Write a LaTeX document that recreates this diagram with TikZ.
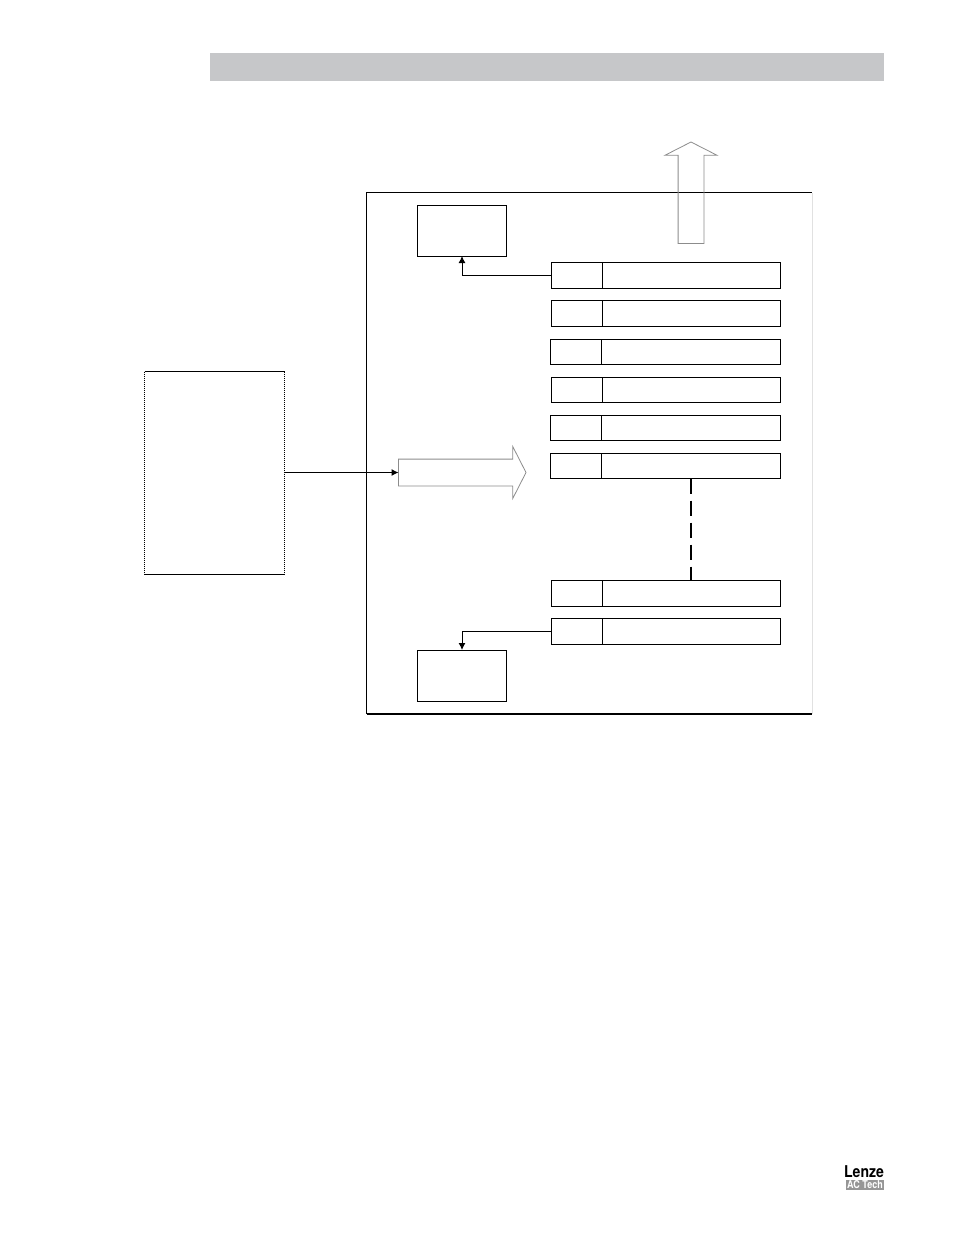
\documentclass[tikz,border=0pt]{standalone}
\usepackage{fontspec}
\setmainfont{TeX Gyre Heros}
\usepackage{graphicx, xcolor}
\usetikzlibrary{positioning}
\usetikzlibrary{arrows.meta}
\usetikzlibrary{shapes.arrows}
\definecolor{bandgray}{RGB}{198,199,201}
\definecolor{arrowgray}{RGB}{140,140,140}
\definecolor{framegray}{RGB}{225,225,225}
\definecolor{logogray}{RGB}{150,150,150}

\begin{document}
\begin{tikzpicture}[x=1pt, y=-1pt,
    cell style/.style={
        rectangle, draw, line width=1pt,
        inner sep=0pt, outer sep=0pt,
        minimum height=26pt
    },
    num cell/.style={cell style, minimum width=51pt},
    text cell/.style={cell style, minimum width=178pt},
    low cell/.style={minimum height=25pt},
    block style/.style={
        rectangle, draw, line width=1pt,
        inner sep=0pt, outer sep=0pt,
        minimum width=89pt, minimum height=51pt
    },
    hollow arrow/.style={
        single arrow, draw=arrowgray, line width=.8pt,
        anchor=tail,
        inner sep=13pt, outer sep=0pt,
        single arrow head extend=12.5pt,
        single arrow head indent=0pt,
        single arrow tip angle=126
    },
    empty box/.style={inner sep=0pt, outer sep=0pt},
    edge/.style={line width=1pt, -{Latex[length=7pt,width=7pt]}}
]
    \useasboundingbox (0,0) rectangle (954,1235);

    % header band
    \node[empty box, fill=bandgray, minimum width=674pt, minimum height=28pt] (band) at (547,67) {};

    % outer frame
    \node[empty box, minimum width=445.5pt, minimum height=521.5pt] (frame) at (589.25,453.25) {};
    \draw[line width=1pt] (frame.south west) -- (frame.north west) -- (frame.north east);
    \draw[framegray, line width=1pt] (frame.north east) -- (frame.south east);
    \draw[line width=2pt] (frame.south west) -- (frame.south east);

    % dotted box
    \node[empty box, minimum width=140pt, minimum height=202.5pt] (source) at (214.5,472.75) {};
    \draw[line width=1pt] (source.north west) -- (source.north east);
    \draw[line width=1pt] (source.south west) -- (source.south east);
    \draw[line width=1pt, dash pattern=on 1pt off 1pt] (source.north west) -- (source.south west);
    \draw[line width=1pt, dash pattern=on 1pt off 1pt] (source.north east) -- (source.south east);

    % hollow arrows
    \node[hollow arrow, minimum height=101.5pt, shape border rotate=90, inner sep=12.5pt, single arrow head extend=13pt] (outarrow) at (691,243.5) {};
    \node[hollow arrow, minimum height=127.5pt] (inarrow) at (398.5,472.5) {};

    % end blocks
    \node[block style] (topblock) at (462,230.5) {};
    \node[block style] (botblock) at (462,675.5) {};

    % register rows
    \node[num cell] (n1) at (577,275.5) {};
    \node[text cell] (t1) at (691.5,275.5) {};
    \node[num cell] (n2) at (577,313.5) {};
    \node[text cell] (t2) at (691.5,313.5) {};
    \node[num cell, low cell] (n3) at (576,352) {};
    \node[text cell, low cell, minimum width=179pt] (t3) at (691,352) {};
    \node[num cell, low cell] (n4) at (577,390) {};
    \node[text cell, low cell] (t4) at (691.5,390) {};
    \node[num cell, low cell] (n5) at (576,428) {};
    \node[text cell, low cell, minimum width=179pt] (t5) at (691,428) {};
    \node[num cell, low cell] (n6) at (576,466) {};
    \node[text cell, low cell, minimum width=179pt] (t6) at (691,466) {};
    \node[num cell] (n7) at (577,593.5) {};
    \node[text cell] (t7) at (691.5,593.5) {};
    \node[num cell] (n8) at (577,631.5) {};
    \node[text cell] (t8) at (691.5,631.5) {};

    \draw[edge] (n1.west) -| (topblock.south);
    \draw[edge] (n8.west) -| (botblock.north);
    \draw[edge] (source.east |- inarrow.tail) -- (inarrow.tail);
    \draw[line width=2pt, dash pattern=on 15pt off 7pt] (t6.south) -- (t6.south |- t7.north);

    % logo
    \node[empty box, font=\bfseries\fontsize{13.8}{14}\selectfont, anchor=south east] (lenze) at (884,1177.5) {\scalebox{1.02}[1.18]{Lenze}};
    \node[empty box, fill=logogray, text=white, font=\bfseries\fontsize{9}{9}\selectfont, minimum width=38pt, minimum height=10pt] (actech) at (865,1184.5) {\scalebox{1}[1.2]{AC Tech}};
\end{tikzpicture}
\end{document}
